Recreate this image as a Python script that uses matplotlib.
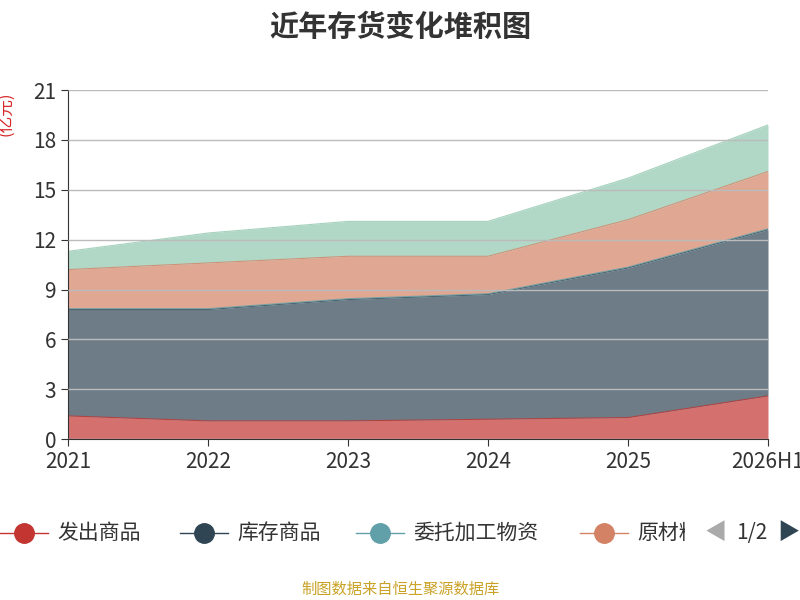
import matplotlib
matplotlib.use("Agg")
import matplotlib.pyplot as plt
import numpy as np
from matplotlib.lines import Line2D

plt.rcParams["font.family"] = ["Noto Sans CJK SC", "DejaVu Sans"]

years = ["2021", "2022", "2023", "2024", "2025", "2026H1"]
fachu = [1.4, 1.1, 1.1, 1.2, 1.3, 2.6]
kucun = [6.4, 6.7, 7.3, 7.5, 9.0, 10.0]
weituo = [0.05, 0.05, 0.05, 0.05, 0.05, 0.05]
yuancailiao = [2.35, 2.75, 2.55, 2.25, 2.85, 3.45]
zhouzhuan = [1.1, 1.8, 2.1, 2.1, 2.5, 2.8]
names = ["发出商品", "库存商品", "委托加工物资", "原材料", "周转材料"]
colors = ["#c23531", "#2f4554", "#61a0a8", "#d48265", "#91c7ae"]

fig = plt.figure(figsize=(8, 6), dpi=100)
ax = fig.add_axes([0.085, 0.268, 0.875, 0.582])
x = np.arange(len(years))
base = np.zeros(len(years))
for vals, c in zip([fachu, kucun, weituo, yuancailiao, zhouzhuan], colors):
    top = base + np.array(vals)
    ax.fill_between(x, base, top, color=c, alpha=0.7, linewidth=0)
    ax.plot(x, top, color=c, linewidth=0.8, alpha=0.8)
    base = top

ax.set_xlim(0, len(years) - 1)
ax.set_ylim(0, 21)
ax.set_yticks(range(0, 22, 3))
ax.set_xticks(x)
ax.set_xticklabels(years)
ax.tick_params(labelsize=15, colors="#333333", length=5)
ax.grid(axis="y", color="#bbbbbb", linewidth=1)
ax.set_axisbelow(False)
for s in ["top", "right"]:
    ax.spines[s].set_visible(False)
ax.spines["left"].set_color("#333333")
ax.spines["bottom"].set_color("#333333")

fig.text(0.5, 0.955, "近年存货变化堆积图", ha="center", va="center",
         fontsize=21, fontweight="bold", color="#333333")
fig.text(0.008, 0.81, "(亿元)", rotation=90, ha="center", va="center",
         fontsize=12, color="#d62728")

ly = 0.112
legend_items = [(0.0, "发出商品"), (0.225, "库存商品"), (0.445, "委托加工物资"), (0.725, "原材料")]
for (lx, name), c in zip(legend_items, colors):
    fig.add_artist(Line2D([lx, lx + 0.06], [ly, ly], color=c, linewidth=1,
                          transform=fig.transFigure))
    fig.add_artist(Line2D([lx + 0.03], [ly], marker="o", markersize=14, color=c,
                          transform=fig.transFigure))
    t = fig.text(lx + 0.072, ly, name, ha="left", va="center", fontsize=15, color="#333333")
    if name == "原材料":
        t.set_clip_on(True)
        t.set_clip_box(matplotlib.transforms.Bbox.from_extents(0, 0, 685, 600))
fig.text(0.895, ly, "◀", ha="center", va="center", fontsize=16, color="#aaaaaa")
fig.text(0.94, ly, "1/2", ha="center", va="center", fontsize=15, color="#333333")
fig.text(0.985, ly, "▶", ha="center", va="center", fontsize=16, color="#2f4554")

fig.text(0.5, 0.018, "制图数据来自恒生聚源数据库", ha="center", va="center",
         fontsize=11, color="#c9a227")

fig.savefig("out.png", dpi=100)
